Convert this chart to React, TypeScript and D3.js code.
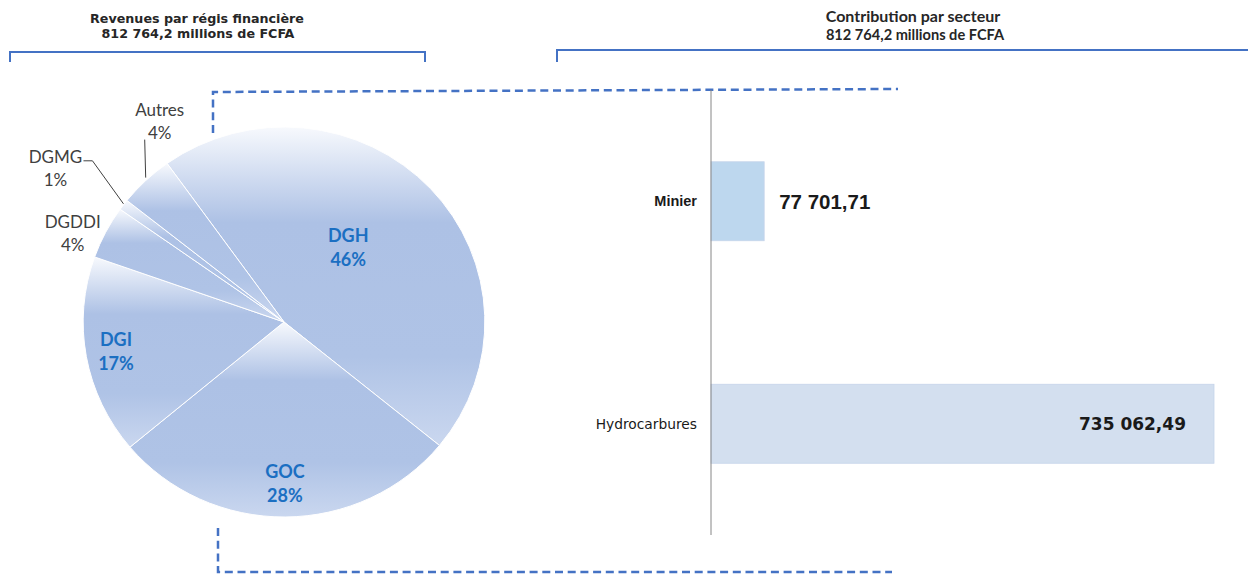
import React, { useEffect, useRef } from 'react';
import * as d3 from 'd3';

// Revenues par régie (%)
const sliceNames = ['DGH', 'GOC', 'DGI', 'DGDDI', 'DGMG', 'Autres'];
const sliceShares = [45.8, 28.0, 16.5, 4.4, 0.9, 4.4];

// Contribution par secteur (millions de FCFA)
const sectors = ['Minier', 'Hydrocarbures'];
const sectorValues = [77701.71, 735062.49];

const pieTitle = ['Revenues par régis financière', '812 764,2 millions de FCFA'];
const barTitle = ['Contribution par secteur', '812 764,2 millions de FCFA'];

const frFormat = d3.formatLocale({
  decimal: ',',
  thousands: ' ',
  grouping: [3],
  currency: ['', ''],
}).format(',.2f');

const App: React.FC = () => {
  const ref = useRef<SVGSVGElement>(null);

  useEffect(() => {
    const width = 1248;
    const height = 574;
    const svg = d3.select(ref.current).attr('width', width).attr('height', height);
    svg.selectAll('*').remove();

    const blue = '#4472c4';
    const dark = '#262626';

    // gradient shared by all slices (bounding box of each slice)
    const defs = svg.append('defs');
    const grad = defs.append('linearGradient')
      .attr('id', 'sliceGrad')
      .attr('x1', 0).attr('y1', 0).attr('x2', 0).attr('y2', 1);
    grad.append('stop').attr('offset', '0%').attr('stop-color', '#f7f9fd');
    grad.append('stop').attr('offset', '30%').attr('stop-color', '#adc1e5');
    grad.append('stop').attr('offset', '72%').attr('stop-color', '#afc3e6');
    grad.append('stop').attr('offset', '100%').attr('stop-color', '#cad7ef');

    // titles + brackets
    const titles = svg.append('g');
    titles.append('text')
      .attr('x', 197).attr('y', 23)
      .attr('text-anchor', 'middle')
      .style('font', 'bold 12.7px "DejaVu Sans"')
      .attr('fill', dark)
      .text(pieTitle[0]);
    titles.append('text')
      .attr('x', 198).attr('y', 38)
      .attr('text-anchor', 'middle')
      .style('font', 'bold 12.7px "DejaVu Sans"')
      .attr('fill', dark)
      .text(pieTitle[1]);
    titles.append('text')
      .attr('x', 913).attr('y', 22)
      .attr('text-anchor', 'middle')
      .style('font', 'bold 16px Lato')
      .attr('fill', dark)
      .text(barTitle[0]);
    titles.append('text')
      .attr('x', 915).attr('y', 40)
      .attr('text-anchor', 'middle')
      .style('font', 'bold 14.6px Lato')
      .attr('fill', dark)
      .text(barTitle[1]);

    titles.append('path')
      .attr('d', 'M10,62 V52 H425 V62')
      .attr('fill', 'none').attr('stroke', blue).attr('stroke-width', 2);
    titles.append('path')
      .attr('d', 'M557,62 V50 H1248')
      .attr('fill', 'none').attr('stroke', blue).attr('stroke-width', 2);

    // dashed connectors
    svg.append('path')
      .attr('d', 'M213,133 V92 L898,89')
      .attr('fill', 'none').attr('stroke', blue).attr('stroke-width', 2.5)
      .attr('stroke-dasharray', '8,4.7');
    svg.append('path')
      .attr('d', 'M218,528 V572 H892')
      .attr('fill', 'none').attr('stroke', blue).attr('stroke-width', 2.5)
      .attr('stroke-dasharray', '8,4.7');

    // ---- pie ----
    const cx = 284;
    const cy = 322;
    const R = 195;
    const sx = 1.03;
    const start = (-35.6 * Math.PI) / 180;

    const pie = d3.pie<number>()
      .sort(null)
      .value(d => d)
      .startAngle(start)
      .endAngle(start + 2 * Math.PI);
    const arcs = pie(sliceShares);
    const arc = d3.arc<d3.PieArcDatum<number>>().innerRadius(0).outerRadius(R);

    const pieG = svg.append('g').attr('transform', `translate(${cx},${cy}) scale(${sx},1)`);
    pieG.selectAll('path')
      .data(arcs)
      .join('path')
      .attr('d', arc)
      .attr('fill', 'url(#sliceGrad)')
      .attr('stroke', '#ffffff')
      .attr('stroke-width', 1)
      .attr('vector-effect', 'non-scaling-stroke');

    const pt = (a: number, r: number): [number, number] => [
      cx + sx * r * Math.sin(a),
      cy - r * Math.cos(a),
    ];
    const mid = (d: d3.PieArcDatum<number>) => (d.startAngle + d.endAngle) / 2;

    const inside: Record<string, { k: number; dx: number; dy: number }> = {
      DGH: { k: 0.5, dx: -9, dy: -8 },
      GOC: { k: 0.84, dx: 0, dy: -3 },
      DGI: { k: 0.85, dx: 0, dy: 0 },
    };
    const outside: Record<string, { tx: number; ty: number; leader?: [number, number][] }> = {
      Autres: { tx: 14, ty: -60, leader: [[0, -3], [-1, -41]] },
      DGMG: { tx: -68, ty: -37, leader: [[0, -1], [-31, -44], [-40, -44]] },
      DGDDI: { tx: -33, ty: 1 },
    };

    const labels = svg.append('g');
    arcs.forEach((d, i) => {
      const name = sliceNames[i];
      const pct = `${Math.round(sliceShares[i])}%`;
      const a = mid(d);
      if (inside[name]) {
        const c = inside[name];
        const [x, y] = pt(a, R * c.k);
        const t = labels.append('text')
          .attr('text-anchor', 'middle')
          .style('font', 'bold 18px Lato')
          .attr('fill', '#1b6fc2');
        t.append('tspan').attr('x', x + c.dx).attr('y', y + c.dy - 5).text(name);
        t.append('tspan').attr('x', x + c.dx).attr('y', y + c.dy + 19).text(pct);
      } else {
        const c = outside[name];
        const [ex, ey] = pt(a, R);
        if (c.leader) {
          labels.append('path')
            .attr('d', d3.line()(c.leader.map(([dx, dy]) => [ex + dx, ey + dy] as [number, number])))
            .attr('fill', 'none')
            .attr('stroke', '#404040')
            .attr('stroke-width', 1);
        }
        const t = labels.append('text')
          .attr('text-anchor', 'middle')
          .style('font', '17px Lato')
          .attr('fill', '#404040');
        t.append('tspan').attr('x', ex + c.tx).attr('y', ey + c.ty - 5).text(name);
        t.append('tspan').attr('x', ex + c.tx).attr('y', ey + c.ty + 18).text(pct);
      }
    });

    // ---- bars ----
    const x = d3.scaleLinear()
      .domain([0, d3.max(sectorValues) as number])
      .range([711, 1214]);
    const y = d3.scaleBand<string>()
      .domain(sectors)
      .range([90, 535])
      .paddingInner(0.645)
      .paddingOuter(0.3225);
    const barColor = d3.scaleOrdinal<string, string>()
      .domain(sectors)
      .range(['#bdd7ee', '#d3dfef']);

    const barG = svg.append('g');
    barG.selectAll('rect')
      .data(sectors)
      .join('rect')
      .attr('x', x(0))
      .attr('y', d => y(d) as number)
      .attr('width', (d, i) => x(sectorValues[i]) - x(0))
      .attr('height', y.bandwidth())
      .attr('fill', d => barColor(d))
      .attr('stroke', '#c6d4ea')
      .attr('stroke-width', 0.8);

    barG.append('line')
      .attr('x1', x(0)).attr('x2', x(0))
      .attr('y1', 90).attr('y2', 535)
      .attr('stroke', '#868686').attr('stroke-width', 1);

    // category labels
    barG.append('text')
      .attr('x', 697).attr('y', (y('Minier') as number) + y.bandwidth() / 2 + 5)
      .attr('text-anchor', 'end')
      .style('font', 'bold 14.5px "Liberation Sans"')
      .attr('fill', '#1a1a1a')
      .text(sectors[0]);
    barG.append('text')
      .attr('x', 697).attr('y', (y('Hydrocarbures') as number) + y.bandwidth() / 2 + 5)
      .attr('text-anchor', 'end')
      .style('font', '13.8px "DejaVu Sans"')
      .attr('fill', '#1a1a1a')
      .text(sectors[1]);

    // value labels
    barG.append('text')
      .attr('x', x(sectorValues[0]) + 15)
      .attr('y', (y('Minier') as number) + y.bandwidth() / 2 + 8)
      .style('font', 'bold 20.5px "Liberation Sans"')
      .attr('fill', '#1a1a1a')
      .text(frFormat(sectorValues[0]));
    barG.append('text')
      .attr('x', x(sectorValues[1]) - 28)
      .attr('y', (y('Hydrocarbures') as number) + y.bandwidth() / 2 + 6)
      .attr('text-anchor', 'end')
      .style('font', 'bold 17px "DejaVu Sans"')
      .attr('fill', '#1a1a1a')
      .text(frFormat(sectorValues[1]));
  }, []);

  return (
    <svg ref={ref} style={{ position: 'absolute', left: 0, top: 0, background: '#fff' }} />
  );
};

export default App;
